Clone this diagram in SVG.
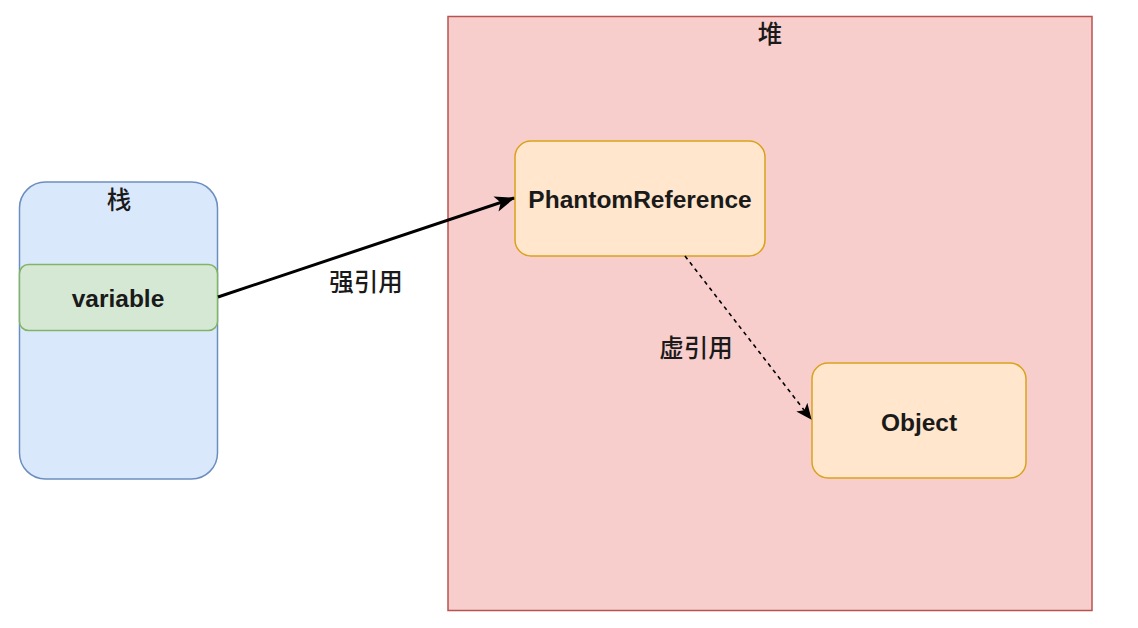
<svg xmlns="http://www.w3.org/2000/svg" width="1138" height="628" viewBox="0 0 1138 628">
<style>
.lbl{font-family:"Liberation Sans","Noto Sans CJK SC",sans-serif;fill:#1a1a1a;text-anchor:middle}
.b{font-weight:bold;font-size:24.5px}
.cjk{font-family:"Noto Sans CJK SC",sans-serif;font-size:24.5px;font-weight:500;fill:#1a1a1a;text-anchor:middle}
.box{fill:#ffe6cc;stroke:#d9a21d;stroke-width:1.5}
</style>
<defs>
<marker id="ah" viewBox="0 0 20 16" refX="19" refY="8" markerWidth="20" markerHeight="16" markerUnits="userSpaceOnUse" orient="auto">
<path d="M0,0 L20,8 L0,16 L5,8 Z" fill="#000"/>
</marker>
<marker id="ah2" viewBox="0 0 16 14" refX="15" refY="7" markerWidth="16" markerHeight="14" markerUnits="userSpaceOnUse" orient="auto">
<path d="M0,0 L16,7 L0,14 L4,7 Z" fill="#000"/>
</marker>
</defs>
<rect width="1138" height="628" fill="#fff"/>
<g id="heap">
<rect x="448" y="16.5" width="644" height="594" fill="#f8cecc" stroke="#b85450" stroke-width="1.5"/>
<text class="cjk" x="770" y="43" font-weight="bold">堆</text>
</g>
<g id="stack">
<rect x="19.5" y="182" width="198" height="297" rx="26" fill="#dae8fc" stroke="#6c8ebf" stroke-width="1.5"/>
<text class="cjk" x="119" y="209" font-weight="bold">栈</text>
</g>
<g id="variable">
<rect x="19.5" y="264.5" width="198" height="66" rx="9" fill="#d5e8d4" stroke="#82b366" stroke-width="1.5"/>
<text class="lbl b" x="118" y="306.5">variable</text>
</g>
<g id="phantom">
<rect class="box" x="515" y="141" width="250" height="115" rx="16"/>
<text class="lbl b" x="640" y="207.5">PhantomReference</text>
</g>
<g id="object">
<rect class="box" x="812" y="363" width="214" height="115" rx="16"/>
<text class="lbl b" x="919" y="430.5">Object</text>
</g>
<g id="connectors">
<line x1="218" y1="297" x2="514" y2="198" stroke="#000" stroke-width="3" marker-end="url(#ah)"/>
<text class="cjk" x="366" y="291">强引用</text>
<line x1="685" y1="256" x2="811" y2="419" stroke="#000" stroke-width="1.6" stroke-dasharray="4,4" marker-end="url(#ah2)"/>
<text class="cjk" x="696" y="357">虚引用</text>
</g>
</svg>
